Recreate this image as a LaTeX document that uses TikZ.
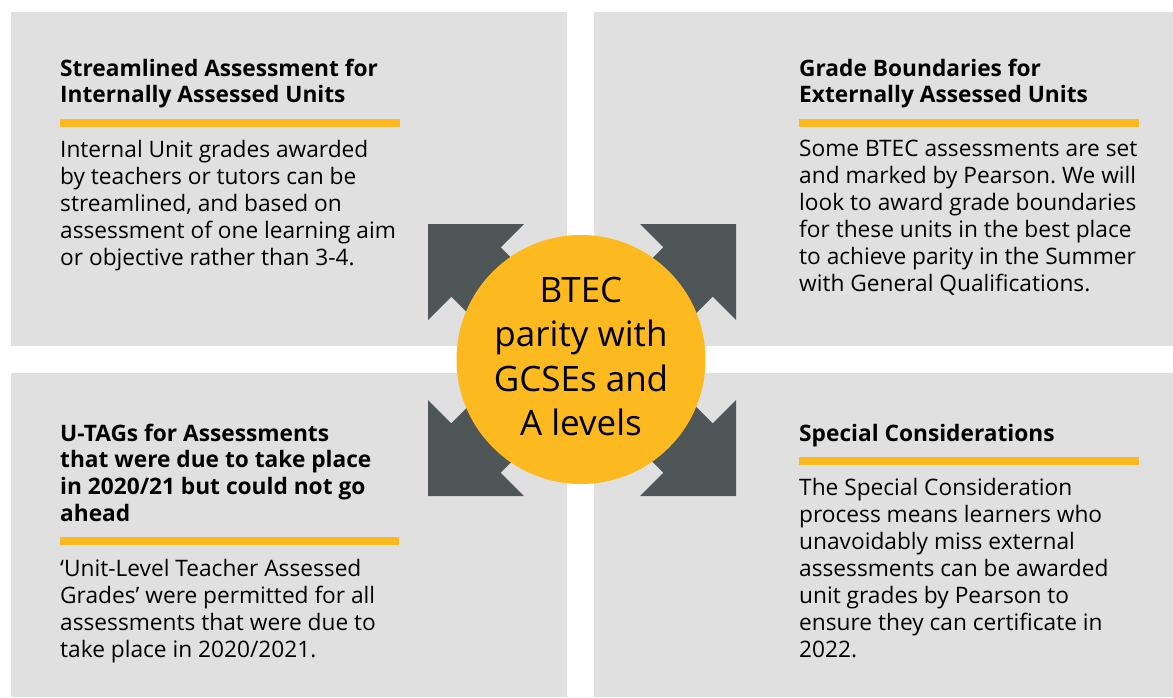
\documentclass[tikz,border=0pt]{standalone}
\usepackage{fontspec}
\setmainfont{Open Sans}
\frenchspacing
\definecolor{panel}{HTML}{DFE0DF}
\definecolor{dark}{HTML}{4F5657}
\definecolor{gold}{HTML}{FCB920}
\newcommand{\mylines}[2][12cm]{\parbox[t]{#1}{\raggedright #2}}
\newcommand{\mycenter}[1]{\parbox[t]{260pt}{\centering #1}}
\tikzset{
  panelbox/.style={fill=panel, draw=none},
  barbox/.style={fill=gold, draw=none},
  headtext/.style={anchor=base west, inner sep=0pt, font=\bfseries\fontsize{22.7}{26.9}\selectfont},
  bodytext/.style={anchor=base west, inner sep=0pt, font=\fontsize{22.7}{27}\selectfont},
  arrowshape/.style={fill=dark, draw=none},
  hubtext/.style={anchor=base, inner sep=0pt, font=\fontsize{35}{44.5}\selectfont},
}
\begin{document}
\begin{tikzpicture}[x=1pt,y=-1pt]
\fill[white] (0,0) rectangle (1173,697);
\useasboundingbox (0,0) rectangle (1173,697);
% panels
\fill[panelbox] (11,12) rectangle (567,346);
\fill[panelbox] (594,12) rectangle (1173,346);
\fill[panelbox] (11,373) rectangle (567,697);
\fill[panelbox] (594,373) rectangle (1173,697);
% arrows
\foreach \sx/\sy in {1/1,-1/1,1/-1,-1/-1}{
  \begin{scope}[shift={(582,360)}, xscale=\sx, yscale=\sy]
    \fill[arrowshape] (-154,-136) -- (-58,-136) -- (-81.3,-112.7) -- (-1.3,-32.7)
      -- (-50.7,16.7) -- (-130.7,-63.3) -- (-154,-40) -- cycle;
  \end{scope}
}
% hub
\node[circle, fill=gold, minimum size=249pt, inner sep=0pt] (hub) at (581,359.5) {};
\node[hubtext] (hubt) at (581,302.3) {\mycenter{BTEC\\parity with\\GCSEs and\\A levels}};
% top left
\node[headtext] (tlh) at (60,76) {\mylines{Streamlined Assessment for\\Internally Assessed Units}};
\fill[barbox] (60,118.5) rectangle (399.5,126.7);
\node[bodytext] (tlb) at (60,157) {\mylines{Internal Unit grades awarded\\by teachers or tutors can be\\streamlined, and based on\\assessment of one learning aim\\or objective rather than 3-4.}};
% top right
\node[headtext] (trh) at (799,76) {\mylines{Grade Boundaries for\\Externally Assessed Units}};
\fill[barbox] (799,119) rectangle (1139,126.7);
\node[bodytext] (trb) at (799,156.7) {\mylines{Some BTEC assessments are set\\and marked by Pearson. We will\\look to award grade boundaries\\for these units in the best place\\to achieve parity in the Summer\\with General Qualifications.}};
% bottom left
\node[headtext] (blh) at (60,441) {\mylines{U-TAGs for Assessments\\that were due to take place\\in 2020/21 but could not go\\ahead}};
\fill[barbox] (60,537.3) rectangle (399.3,545);
\node[bodytext] (blb) at (60,576.7) {\mylines{‘Unit-Level Teacher Assessed\\Grades’ were permitted for all\\assessments that were due to\\take place in 2020/2021.}};
% bottom right
\node[headtext] (brh) at (799,441) {\mylines{Special Considerations}};
\fill[barbox] (799,457.3) rectangle (1139,464.7);
\node[bodytext] (brb) at (799,495) {\mylines{The Special Consideration\\process means learners who\\unavoidably miss external\\assessments can be awarded\\unit grades by Pearson to\\ensure they can certificate in\\2022.}};
\end{tikzpicture}
\end{document}
